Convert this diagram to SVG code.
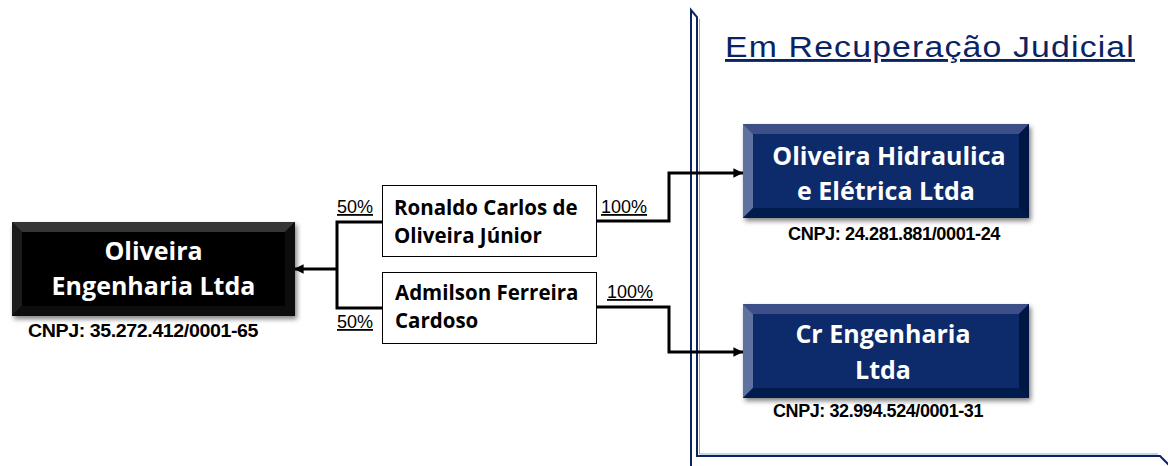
<svg xmlns="http://www.w3.org/2000/svg" width="1168" height="466" viewBox="0 0 1168 466">
<style>
.conn{fill:none;stroke:#000;stroke-width:3;}
.frame{fill:none;stroke:#0a2463;stroke-width:2;}
.frameL{fill:none;stroke:#9aa8cc;stroke-width:1;}
.title{font-family:"Liberation Sans",Arial,sans-serif;font-size:29px;fill:#0a2463;text-decoration:underline;}
.big{font-family:"Open Sans",sans-serif;font-weight:bold;font-size:25px;fill:#fff;text-anchor:middle;}
.small{font-family:"Open Sans",sans-serif;font-weight:bold;font-size:20.5px;fill:#000;}
.pct{font-family:"Liberation Sans",Arial,sans-serif;font-size:18px;fill:#000;text-decoration:underline;}
.cnpj{font-family:"Liberation Sans",Arial,sans-serif;font-weight:bold;fill:#000;letter-spacing:-0.4px;}
.pbox{fill:#fff;stroke:#000;stroke-width:1;}
</style>
<defs>
<filter id="sh" x="-10%" y="-10%" width="125%" height="135%">
<feDropShadow dx="2" dy="3" stdDeviation="2.5" flood-color="#000" flood-opacity="0.5"/>
</filter>
<marker id="ah" viewBox="0 0 10 10" refX="10" refY="5" markerWidth="3.6" markerHeight="3.2" orient="auto" markerUnits="strokeWidth">
<path d="M0,0 L10,5 L0,10 Z" fill="#000"/>
</marker>
</defs>

<g id="frame">
<path class="frame" d="M691,466 V10 L697,17 V456 H1160 L1170,466"/>
<path class="frameL" d="M699.5,19 V454 H1158"/>
</g>

<g id="title">
<text class="title" x="725" y="57" letter-spacing="1" textLength="410" lengthAdjust="spacingAndGlyphs">Em Recuperação Judicial</text>
</g>

<g id="connectors">
<path class="conn" d="M382,222 H337 V308 H382"/>
<path class="conn" d="M337,269 H294" marker-end="url(#ah)"/>
<path class="conn" d="M596,221 H669 V173 H743" marker-end="url(#ah)"/>
<path class="conn" d="M596,307 H669 V352 H743" marker-end="url(#ah)"/>
</g>

<g id="oliveira-engenharia">
<g filter="url(#sh)">
<rect x="12" y="222" width="283" height="94" fill="#000"/>
<polygon points="12,222 295,222 285,232 22,232" fill="#343434"/>
<polygon points="12,222 22,232 22,306 12,316" fill="#1e1e1e"/>
<polygon points="12,316 22,306 285,306 295,316" fill="#080808"/>
<polygon points="295,222 295,316 285,306 285,232" fill="#0c0c0c"/>
<rect x="22" y="232" width="263" height="74" fill="#000"/>
</g>
<text class="big" x="153.5" y="260">Oliveira</text>
<text class="big" x="153.5" y="295">Engenharia Ltda</text>
<text class="cnpj" x="28" y="337" font-size="19" textLength="230" lengthAdjust="spacingAndGlyphs">CNPJ: 35.272.412/0001-65</text>
</g>

<g id="ronaldo">
<rect class="pbox" x="382.5" y="185.5" width="214" height="71"/>
<text class="small" x="394" y="215">Ronaldo Carlos de</text>
<text class="small" x="394" y="243">Oliveira Júnior</text>
<text class="pct" x="337" y="213">50%</text>
<text class="pct" x="601" y="213">100%</text>
</g>

<g id="admilson">
<rect class="pbox" x="382.5" y="272.5" width="214" height="71"/>
<text class="small" x="395" y="300">Admilson Ferreira</text>
<text class="small" x="395" y="328">Cardoso</text>
<text class="pct" x="337" y="328">50%</text>
<text class="pct" x="607" y="298">100%</text>
</g>

<g id="oliveira-hidraulica">
<g filter="url(#sh)">
<rect x="743" y="124" width="286" height="94" fill="#0d2a6b"/>
<polygon points="743,124 1029,124 1019,134 753,134" fill="#3c5088"/>
<polygon points="743,124 753,134 753,208 743,218" fill="#5f719f"/>
<polygon points="743,218 753,208 1019,208 1029,218" fill="#051a4d"/>
<polygon points="1029,124 1029,218 1019,208 1019,134" fill="#031542"/>
<rect x="753" y="134" width="266" height="74" fill="#0d2a6b"/>
</g>
<text class="big" x="889" y="165">Oliveira Hidraulica</text>
<text class="big" x="886" y="200">e Elétrica Ltda</text>
<text class="cnpj" x="788" y="240" font-size="17.5" textLength="212" lengthAdjust="spacingAndGlyphs">CNPJ: 24.281.881/0001-24</text>
</g>

<g id="cr-engenharia">
<g filter="url(#sh)">
<rect x="743" y="304" width="286" height="94" fill="#0d2a6b"/>
<polygon points="743,304 1029,304 1019,314 753,314" fill="#3c5088"/>
<polygon points="743,304 753,314 753,388 743,398" fill="#5f719f"/>
<polygon points="743,398 753,388 1019,388 1029,398" fill="#051a4d"/>
<polygon points="1029,304 1029,398 1019,388 1019,314" fill="#031542"/>
<rect x="753" y="314" width="266" height="74" fill="#0d2a6b"/>
</g>
<text class="big" x="883" y="343">Cr Engenharia</text>
<text class="big" x="883" y="379">Ltda</text>
<text class="cnpj" x="773" y="417" font-size="17.5" textLength="210" lengthAdjust="spacingAndGlyphs">CNPJ: 32.994.524/0001-31</text>
</g>
</svg>
